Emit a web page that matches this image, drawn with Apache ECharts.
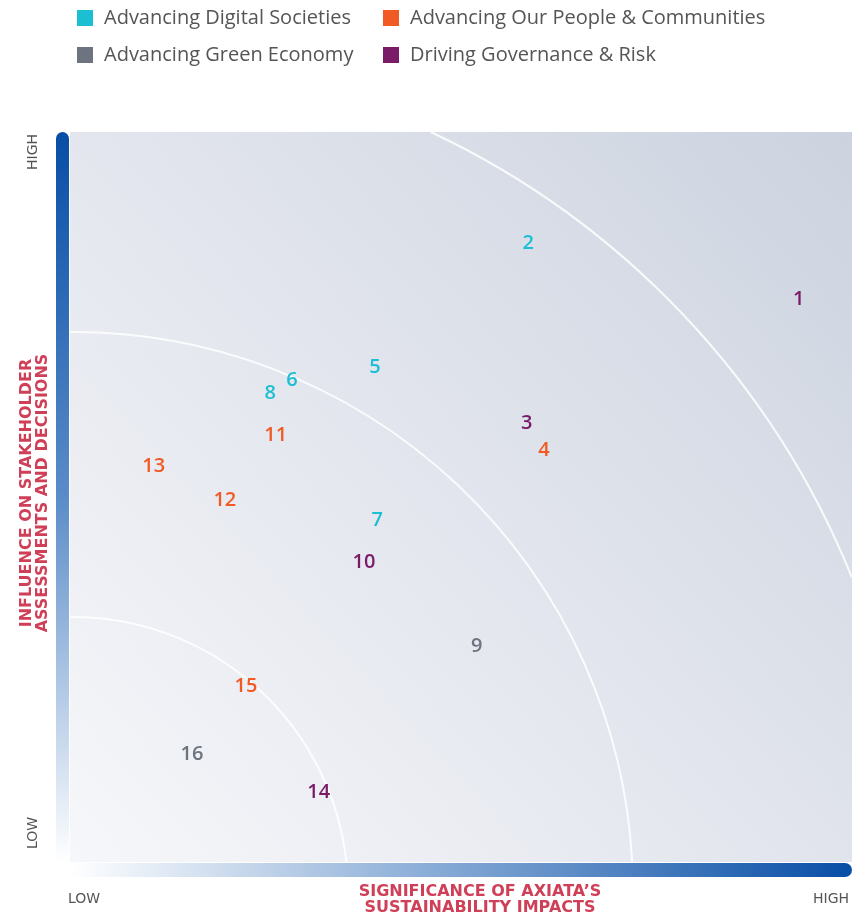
<!DOCTYPE html>
<html><head><meta charset="utf-8">
<script src="https://cdn.jsdelivr.net/npm/echarts@6/dist/echarts.min.js"></script>
<style>html,body{margin:0;padding:0;background:#fff}#c{width:866px;height:915px}</style>
</head><body><div id="c"></div>
<script>
const categories = ['Advancing Digital Societies','Advancing Our People & Communities','Advancing Green Economy','Driving Governance & Risk'];
const colors = ['#1cbfd2','#f15a24','#6d7480','#7a1b68'];
// [significance (x), influence (y), topic number]
const digital = [[5.86,8.48,2],[3.90,6.78,5],[2.84,6.60,6],[3.93,4.68,7],[2.56,6.42,8]];
const people = [[6.06,5.64,4],[2.63,5.84,11],[1.98,4.95,12],[1.07,5.42,13],[2.25,2.41,15]];
const green = [[5.20,2.96,9],[1.56,1.48,16]];
const governance = [[9.32,7.71,1],[5.84,6.01,3],[3.76,4.11,10],[3.18,0.95,14]];
const seriesData = [digital, people, green, governance];
const xTitle = "SIGNIFICANCE OF AXIATA’S\nSUSTAINABILITY IMPACTS";
const yTitle = "INFLUENCE ON STAKEHOLDER\nASSESSMENTS AND DECISIONS";

const G = {left:70, top:132, right:852, bottom:862};
const FONT = '"Open Sans", sans-serif';
const WIDE = '"DejaVu Sans", sans-serif';

function arcEl(cx, cy, r){
  let a0, a1;
  if (cx - r < G.left) { a0 = Math.atan2(-Math.sqrt(r*r-(G.left-cx)**2), G.left-cx); }
  if (cy - r < G.top) { a0 = Math.atan2(G.top-cy, Math.sqrt(r*r-(G.top-cy)**2)); }
  if (cx + r > G.right) { a1 = Math.atan2(-Math.sqrt(r*r-(G.right-cx)**2), G.right-cx); }
  else { a1 = Math.atan2(G.bottom-cy, Math.sqrt(r*r-(G.bottom-cy)**2)); }
  return {type:'arc', z:1, silent:true,
    shape:{cx:cx, cy:cy, r:r, startAngle:a0, endAngle:a1, clockwise:true},
    style:{fill:null, stroke:'rgba(255,255,255,0.85)', lineWidth:2}};
}
function legendItem(i){ return {name:categories[i], itemStyle:{color:colors[i], opacity:1}}; }
const legendText = {fontSize:20, color:'#555', fontFamily:FONT, lineHeight:16, padding:[0,0,0,6]};

const chart = echarts.init(document.getElementById('c'));
chart.setOption({
  animation:false,
  backgroundColor:'#fff',
  textStyle:{fontFamily:FONT},
  legend:[
    {left:77, top:8, padding:0, orient:'vertical', itemGap:17, itemWidth:16, itemHeight:16, icon:'rect',
     data:[legendItem(0), legendItem(2)], textStyle:legendText},
    {left:383, top:8, padding:0, orient:'vertical', itemGap:17, itemWidth:16, itemHeight:16, icon:'rect',
     data:[legendItem(1), legendItem(3)], textStyle:legendText}
  ],
  grid:{left:G.left, top:G.top, right:866-G.right, bottom:915-G.bottom, show:true, borderWidth:0,
    backgroundColor:new echarts.graphic.LinearGradient(0,1,1,0,[{offset:0,color:'#f6f7fa'},{offset:0.5,color:'#e2e5ed'},{offset:1,color:'#ccd3df'}])},
  xAxis:{type:'value', min:0, max:10, show:false},
  yAxis:{type:'value', min:0, max:10, show:false},
  series: seriesData.map((d,i)=>({
    name:categories[i], type:'scatter', data:d, symbol:'circle', symbolSize:1, z:5,
    itemStyle:{color:'rgba(0,0,0,0)', opacity:1},
    label:{show:true, position:'inside', formatter:p=>String(p.value[2]), color:colors[i], opacity:1,
      textBorderWidth:0, textBorderColor:'transparent', fontSize:20, fontWeight:600, fontFamily:FONT}
  })),
  graphic:[
    arcEl(73, 892, 275), arcEl(73, 892, 560), arcEl(73, 892, 840),
    {type:'rect', z:2, shape:{x:56, y:G.top, width:13, height:G.bottom-G.top, r:[7,7,0,0]},
     style:{fill:new echarts.graphic.LinearGradient(0,0,0,1,[{offset:0,color:'#084ea6'},{offset:0.5,color:'#5a8cc8'},{offset:1,color:'#ffffff'}])}},
    {type:'rect', z:2, shape:{x:G.left, y:863, width:G.right-G.left, height:14, r:[0,7,7,0]},
     style:{fill:new echarts.graphic.LinearGradient(0,0,1,0,[{offset:0,color:'#ffffff'},{offset:0.5,color:'#7fa5d3'},{offset:1,color:'#084ea6'}])}},
    {type:'text', x:35, y:493, rotation:Math.PI/2, style:{text:yTitle, fill:'#cf3f57', font:'bold 16px '+WIDE, align:'center', verticalAlign:'middle', lineHeight:16}},
    {type:'text', x:480, y:900, style:{text:xTitle, fill:'#cf3f57', font:'bold 16px '+WIDE, align:'center', verticalAlign:'middle', lineHeight:16}},
    {type:'text', x:33, y:152, rotation:Math.PI/2, style:{text:'HIGH', fill:'#555', font:'14px '+WIDE, align:'center', verticalAlign:'middle'}},
    {type:'text', x:33, y:833, rotation:Math.PI/2, style:{text:'LOW', fill:'#555', font:'14px '+WIDE, align:'center', verticalAlign:'middle'}},
    {type:'text', x:84, y:899, style:{text:'LOW', fill:'#555', font:'14px '+WIDE, align:'center', verticalAlign:'middle'}},
    {type:'text', x:831, y:899, style:{text:'HIGH', fill:'#555', font:'14px '+WIDE, align:'center', verticalAlign:'middle'}}
  ]
});
</script></body></html>
